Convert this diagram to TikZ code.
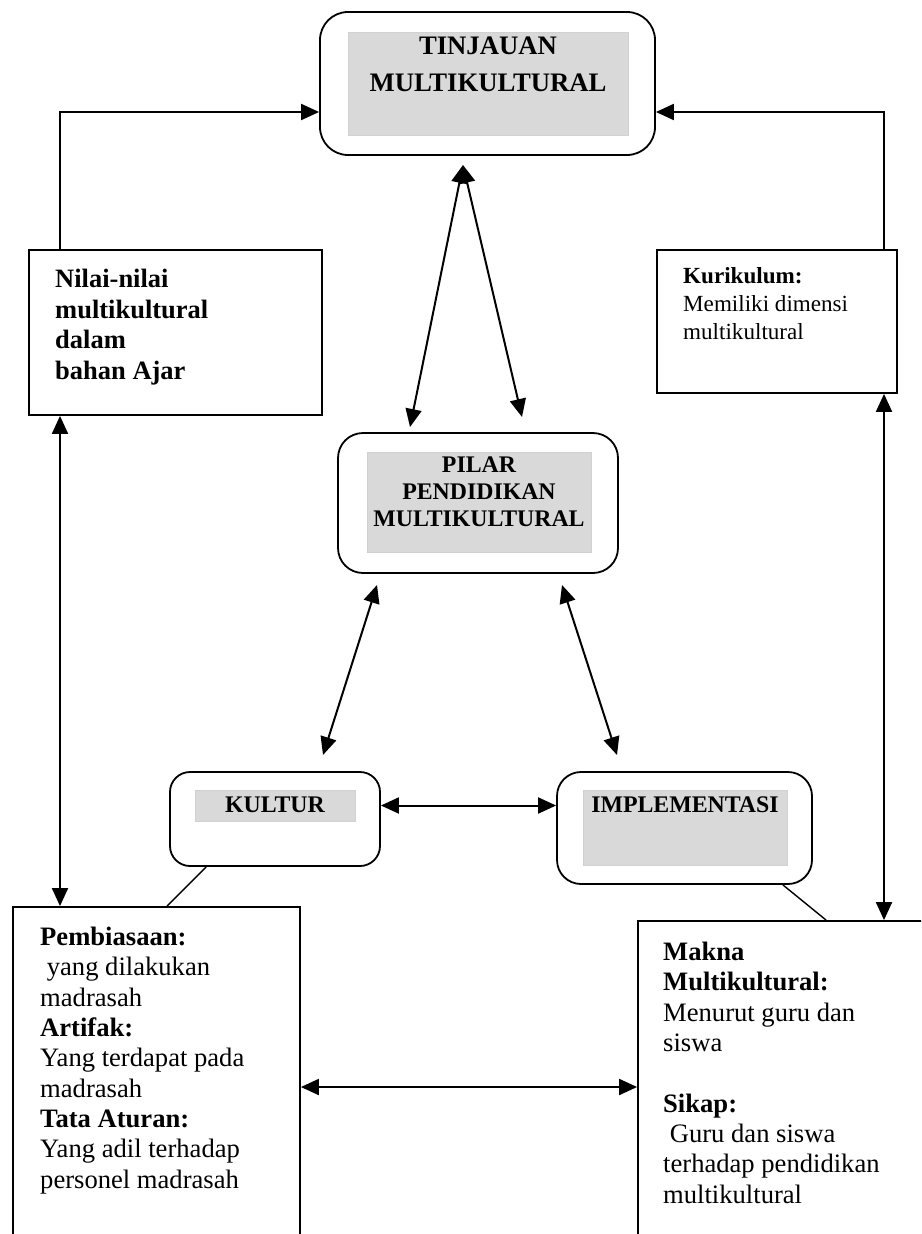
\documentclass[tikz,border=0pt]{standalone}
\usepackage{fontspec}
\setmainfont{Liberation Serif}
\usetikzlibrary{arrows.meta}
\pgfdeclarelayer{bg}
\pgfsetlayers{bg,main}
\tikzset{
  pillar/.style={draw, line width=1.8pt, inner sep=0pt},
  shade/.style={fill=gray!30, draw=black!18, line width=0.5pt, inner sep=0pt},
  card/.style={draw, line width=1.8pt, inner sep=0pt},
  bigcap/.style={font=\bfseries\fontsize{26.7}{37}\selectfont, align=center, inner sep=0pt},
  midcap/.style={font=\bfseries\fontsize{23.8}{27}\selectfont, align=center, inner sep=0pt},
  body/.style={font=\fontsize{26.6}{30.3}\selectfont, align=left, inner sep=0pt, anchor=north west},
  twoway/.style={line width=2pt, {Triangle[length=18pt,width=16pt]}-{Triangle[length=18pt,width=16pt]}},
  oneway/.style={line width=2pt, -{Triangle[length=18pt,width=16pt]}},
  tie/.style={line width=1.4pt}
}

\begin{document}
\begin{tikzpicture}[x=1pt, y=-1pt]
        \useasboundingbox (0,0) rectangle (921,1234);
        \clip (0,0) rectangle (921,1234);
        \node (tinjauan) [pillar, rounded corners=28pt, minimum width=335pt, minimum height=143pt] at (487.5, 83.5) {};
        \node (tinjauanbg) [shade, minimum width=280pt, minimum height=103pt] at (488, 83.5) {};
        \node (tinjauantxt) [bigcap, anchor=north] at (488, 37) {TINJAUAN\\MULTIKULTURAL};
        \node (nilai) [card, minimum width=293pt, minimum height=165pt] at (175.5, 332.5) {};
        \node (nilaitxt) [body, font=\bfseries\fontsize{26.5}{30.5}\selectfont] at (55, 269) {Nilai-nilai\\multikultural\\dalam\\bahan Ajar};
        \node (kurikulum) [card, minimum width=240pt, minimum height=143pt] at (777, 321.5) {};
        \node (kurikulumtxt) [body, font=\fontsize{23.1}{28}\selectfont] at (683, 267) {\textbf{Kurikulum:}\\Memiliki dimensi\\multikultural};
        \node (pilar) [pillar, rounded corners=25pt, minimum width=280pt, minimum height=140pt] at (478, 503) {};
        \node (pilarbg) [shade, minimum width=224pt, minimum height=100pt] at (479, 502) {};
        \node (pilartxt) [midcap, anchor=north] at (479, 457) {PILAR\\PENDIDIKAN\\MULTIKULTURAL};
        \node (kultur) [pillar, rounded corners=20pt, minimum width=210pt, minimum height=94pt] at (275, 819) {};
        \node (kulturbg) [shade, minimum width=160pt, minimum height=31pt] at (275, 805.5) {};
        \node (kulturtxt) [midcap, anchor=base] at (275, 812) {KULTUR};
        \node (impl) [pillar, rounded corners=24pt, minimum width=255pt, minimum height=112pt] at (684.5, 828) {};
        \node (implbg) [shade, minimum width=204pt, minimum height=75pt] at (685, 827.5) {};
        \node (impltxt) [midcap, anchor=base] at (685, 812) {IMPLEMENTASI};
        \node (biasa) [card, minimum width=287pt, minimum height=360pt] at (156.5, 1087) {};
        \node (biasatxt) [body] at (40, 927) {\textbf{Pembiasaan:}\\~yang dilakukan\\madrasah\\\textbf{Artifak:}\\Yang terdapat pada\\madrasah\\\textbf{Tata Aturan:}\\Yang adil terhadap\\personel madrasah};
        \node (makna) [card, minimum width=302pt, minimum height=332pt] at (789, 1087) {};
        \node (maknatxt) [body] at (663, 942) {\textbf{Makna}\\\textbf{Multikultural:}\\Menurut guru dan\\siswa\\[30.3pt]\textbf{Sikap:}\\~Guru dan siswa\\terhadap pendidikan\\multikultural};
        % free arrow ends
        \coordinate (apex) at (463, 165);
        \coordinate (pnl) at (410, 427);
        \coordinate (pnr) at (522, 417);
        \coordinate (psl) at (377, 585);
        \coordinate (kultip) at (323, 755);
        \coordinate (psr) at (562, 585);
        \coordinate (impltip) at (617, 755);
        \coordinate (lx) at (60, 0);
        \coordinate (rx) at (884, 0);
        \coordinate (ty) at (0, 112);
        \begin{pgfonlayer}{bg}
                \draw [oneway] (lx |- nilai.north) |- (ty -| tinjauan.west);
                \draw [oneway] (rx |- kurikulum.north) |- (ty -| tinjauan.east);
                \draw (apex) edge [twoway] (pnl);
                \draw (apex) edge [twoway] (pnr);
                \draw (psl) edge [twoway] (kultip);
                \draw (psr) edge [twoway] (impltip);
                \draw (kulturbg -| kultur.east) edge [twoway] (kulturbg -| impl.west);
                \draw (lx |- nilai.south) edge [twoway] (lx |- biasa.north);
                \draw (rx |- kurikulum.south) edge [twoway] (rx |- makna.north);
                \draw (biasa.east) edge [twoway] (makna.west);
                \draw ([xshift=37pt]kultur.south west) edge [tie] ([xshift=155pt]biasa.north west);
                \draw ([xshift=-30pt]impl.south east) edge [tie] ([xshift=189pt]makna.north west);
        \end{pgfonlayer}
\end{tikzpicture}
\end{document}
